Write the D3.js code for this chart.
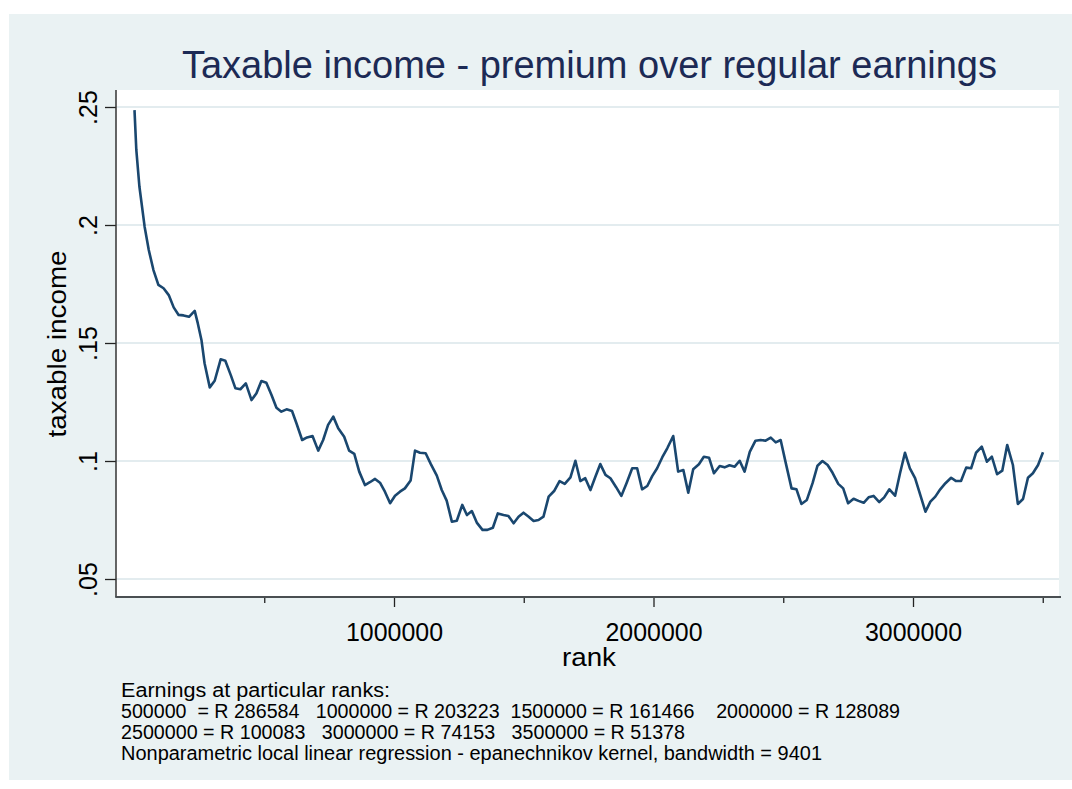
<!DOCTYPE html>
<html>
<head>
<meta charset="utf-8">
<script src="https://cdn.jsdelivr.net/npm/d3@7"></script>
<style>
  html, body { margin: 0; padding: 0; background: #ffffff; }
  svg { display: block; font-family: Arial, "Liberation Sans", sans-serif; }
</style>
</head>
<body>
<svg id="chart" width="1072" height="789"></svg>
<script>
const titleText = "Taxable income - premium over regular earnings";
const xTitle = "rank";
const yTitle = "taxable income";

const ranks = [
  0, 7000, 19000, 39000, 55000, 73000, 92000, 112000, 132000, 151000,
  170000, 189000, 210000, 232000, 244000, 258000, 270000, 290000, 309000, 332000,
  350000, 371000, 389000, 408000, 429000, 451000, 470000, 489000, 508000, 528000,
  547000, 566000, 586000, 607000, 624000, 646000, 665000, 686000, 708000, 727000,
  746000, 766000, 785000, 808000, 827000, 847000, 866000, 888000, 907000, 927000,
  946000, 965000, 985000, 1004000, 1023000, 1042000, 1064000, 1081000, 1100000, 1122000,
  1142000, 1165000, 1184000, 1203000, 1223000, 1242000, 1263000, 1281000, 1300000, 1319000,
  1341000, 1360000, 1381000, 1400000, 1422000, 1441000, 1461000, 1480000, 1499000, 1519000,
  1538000, 1557000, 1576000, 1596000, 1618000, 1638000, 1658000, 1680000, 1699000, 1718000,
  1737000, 1757000, 1776000, 1795000, 1815000, 1834000, 1856000, 1876000, 1896000, 1918000,
  1937000, 1956000, 1976000, 1995000, 2014000, 2034000, 2053000, 2076000, 2095000, 2115000,
  2134000, 2153000, 2175000, 2194000, 2214000, 2233000, 2255000, 2274000, 2293000, 2313000,
  2332000, 2351000, 2371000, 2393000, 2413000, 2432000, 2452000, 2471000, 2490000, 2510000,
  2532000, 2551000, 2570000, 2591000, 2613000, 2632000, 2651000, 2671000, 2690000, 2712000,
  2731000, 2750000, 2771000, 2790000, 2810000, 2829000, 2848000, 2870000, 2889000, 2909000,
  2931000, 2950000, 2969000, 2988000, 3008000, 3028000, 3048000, 3067000, 3086000, 3105000,
  3125000, 3147000, 3166000, 3185000, 3205000, 3224000, 3243000, 3265000, 3285000, 3304000,
  3324000, 3344000, 3363000, 3385000, 3404000, 3424000, 3443000, 3462000, 3482000, 3501000
];

const taxable = [
  0.2487, 0.2318, 0.2162, 0.1993, 0.1894, 0.1809, 0.1746, 0.1732, 0.1703, 0.1651,
  0.1619, 0.1617, 0.1611, 0.1636, 0.1583, 0.1513, 0.1414, 0.1312, 0.1340, 0.1431,
  0.1425, 0.1364, 0.1308, 0.1304, 0.1329, 0.1258, 0.1287, 0.1339, 0.1332, 0.1280,
  0.1226, 0.1209, 0.1219, 0.1212, 0.1160, 0.1089, 0.1100, 0.1106, 0.1044, 0.1089,
  0.1153, 0.1188, 0.1139, 0.1103, 0.1044, 0.1030, 0.0955, 0.0898, 0.0910, 0.0924,
  0.0908, 0.0870, 0.0821, 0.0853, 0.0870, 0.0884, 0.0917, 0.1044, 0.1035, 0.1033,
  0.0987, 0.0938, 0.0877, 0.0832, 0.0743, 0.0747, 0.0814, 0.0771, 0.0788, 0.0739,
  0.0708, 0.0708, 0.0717, 0.0778, 0.0771, 0.0767, 0.0736, 0.0764, 0.0781, 0.0764,
  0.0746, 0.0750, 0.0764, 0.0849, 0.0874, 0.0915, 0.0903, 0.0931, 0.1001, 0.0915,
  0.0927, 0.0877, 0.0933, 0.0987, 0.0941, 0.0927, 0.0889, 0.0852, 0.0906, 0.0969,
  0.0969, 0.0880, 0.0894, 0.0936, 0.0969, 0.1016, 0.1054, 0.1106, 0.0955, 0.0962,
  0.0866, 0.0965, 0.0986, 0.1018, 0.1014, 0.0948, 0.0979, 0.0973, 0.0982, 0.0976,
  0.1001, 0.0955, 0.1039, 0.1086, 0.1089, 0.1086, 0.1099, 0.1079, 0.1089, 0.0990,
  0.0884, 0.0880, 0.0818, 0.0835, 0.0906, 0.0980, 0.1000, 0.0983, 0.0950, 0.0903,
  0.0884, 0.0821, 0.0840, 0.0831, 0.0823, 0.0846, 0.0852, 0.0826, 0.0846, 0.0880,
  0.0853, 0.0948, 0.1035, 0.0969, 0.0927, 0.0856, 0.0785, 0.0828, 0.0849, 0.0880,
  0.0906, 0.0929, 0.0915, 0.0915, 0.0972, 0.0969, 0.1035, 0.1061, 0.0997, 0.1018,
  0.0944, 0.0959, 0.1068, 0.0983, 0.0818, 0.0839, 0.0929, 0.0948, 0.0983, 0.1037
];

const xMajorTicks = [1000000, 2000000, 3000000];
const xMajorLabels = ["1000000", "2000000", "3000000"];
const xMinorTicks = [500000, 1500000, 2500000, 3500000];
const yTicks = [0.05, 0.1, 0.15, 0.2, 0.25];
const yTickLabels = [".05", ".1", ".15", ".2", ".25"];

const noteLines = [
  "Earnings at particular ranks:",
  "500000  = R 286584   1000000 = R 203223  1500000 = R 161466    2000000 = R 128089",
  "2500000 = R 100083   3000000 = R 74153   3500000 = R 51378",
  "Nonparametric local linear regression - epanechnikov kernel, bandwidth = 9401"
];
const noteWidths = [269, 779, 564, 701];

// ---------- layout ----------
const W = 1072, H = 789;
const plot = { left: 116, right: 1059, top: 90, bottom: 596 };
const bgColor = "#eaf2f3";
const lineColor = "#1a476f";
const titleColor = "#1c2a55";

const svg = d3.select("#chart");

svg.append("rect").attr("x", 0).attr("y", 0).attr("width", W).attr("height", H).attr("fill", "#ffffff");
svg.append("rect").attr("x", 9).attr("y", 14).attr("width", W - 9).attr("height", 766).attr("fill", bgColor);
svg.append("rect").attr("x", plot.left).attr("y", plot.top)
  .attr("width", plot.right - plot.left).attr("height", plot.bottom - plot.top).attr("fill", "#ffffff");

const x = d3.scaleLinear().domain([0, 3500000]).range([134.5, 1042.75]);
const y = d3.scaleLinear().domain([0.05, 0.25]).range([579, 107]);

// gridlines
svg.append("g").selectAll("line").data(yTicks).join("line")
  .attr("x1", plot.left).attr("x2", plot.right)
  .attr("y1", d => y(d)).attr("y2", d => y(d))
  .attr("stroke", "#e3ecef").attr("stroke-width", 2);

// y axis
const yAxis = svg.append("g").attr("transform", `translate(${plot.left},0)`)
  .call(d3.axisLeft(y).tickValues(yTicks).tickSize(11)
    .tickFormat((d, i) => yTickLabels[i]));
yAxis.select(".domain").remove();
yAxis.selectAll(".tick line").attr("stroke", "#222").attr("stroke-width", 1.3);
yAxis.selectAll(".tick text")
  .attr("transform", "rotate(-90)")
  .attr("x", 0).attr("y", -19).attr("dy", 0)
  .attr("text-anchor", "middle")
  .attr("fill", "#000")
  .style("font-size", "25px");

// x axis major
const xAxis = svg.append("g").attr("transform", `translate(0,${plot.bottom + 1})`)
  .call(d3.axisBottom(x).tickValues(xMajorTicks).tickSize(10)
    .tickFormat((d, i) => xMajorLabels[i]));
xAxis.select(".domain").remove();
xAxis.selectAll(".tick line").attr("stroke", "#222").attr("stroke-width", 1.3);
xAxis.selectAll(".tick text")
  .attr("y", 44).attr("dy", 0)
  .attr("fill", "#000")
  .style("font-size", "25px")
  .attr("textLength", 97).attr("lengthAdjust", "spacingAndGlyphs");

// x axis minor
const xMinor = svg.append("g").attr("transform", `translate(0,${plot.bottom + 1})`)
  .call(d3.axisBottom(x).tickValues(xMinorTicks).tickSize(6).tickFormat(""));
xMinor.select(".domain").remove();
xMinor.selectAll(".tick line").attr("stroke", "#222").attr("stroke-width", 1.3);

// axis lines
svg.append("line").attr("x1", plot.left).attr("x2", plot.left)
  .attr("y1", plot.top).attr("y2", plot.bottom + 1)
  .attr("stroke", "#333").attr("stroke-width", 1.5);
svg.append("line").attr("x1", plot.left - 0.75).attr("x2", plot.right + 2)
  .attr("y1", plot.bottom + 1).attr("y2", plot.bottom + 1)
  .attr("stroke", "#4a4f52").attr("stroke-width", 2);

// data line
const pts = ranks.map((r, i) => [r, taxable[i]]);
svg.append("path")
  .datum(pts)
  .attr("fill", "none")
  .attr("stroke", lineColor)
  .attr("stroke-width", 2.6)
  .attr("stroke-linejoin", "round")
  .attr("d", d3.line().x(d => x(d[0])).y(d => y(d[1])));

// title
svg.append("text")
  .attr("x", 589.5).attr("y", 78)
  .attr("text-anchor", "middle")
  .attr("fill", titleColor)
  .style("font-size", "38px")
  .attr("textLength", 815).attr("lengthAdjust", "spacingAndGlyphs")
  .text(titleText);

// axis titles
svg.append("text")
  .attr("x", 589).attr("y", 666)
  .attr("text-anchor", "middle")
  .attr("fill", "#000")
  .style("font-size", "26px")
  .attr("textLength", 54).attr("lengthAdjust", "spacingAndGlyphs")
  .text(xTitle);

svg.append("text")
  .attr("transform", "translate(66,344) rotate(-90)")
  .attr("text-anchor", "middle")
  .attr("fill", "#000")
  .style("font-size", "25px")
  .attr("textLength", 187).attr("lengthAdjust", "spacingAndGlyphs")
  .text(yTitle);

// notes
const noteBase = [697, 718, 739, 760];
svg.append("g").selectAll("text").data(noteLines).join("text")
  .attr("x", 121)
  .attr("y", (d, i) => noteBase[i])
  .attr("fill", "#000")
  .style("font-size", "20px")
  .style("white-space", "pre")
  .attr("xml:space", "preserve")
  .attr("textLength", (d, i) => noteWidths[i])
  .attr("lengthAdjust", "spacingAndGlyphs")
  .text(d => d);
</script>
</body>
</html>
